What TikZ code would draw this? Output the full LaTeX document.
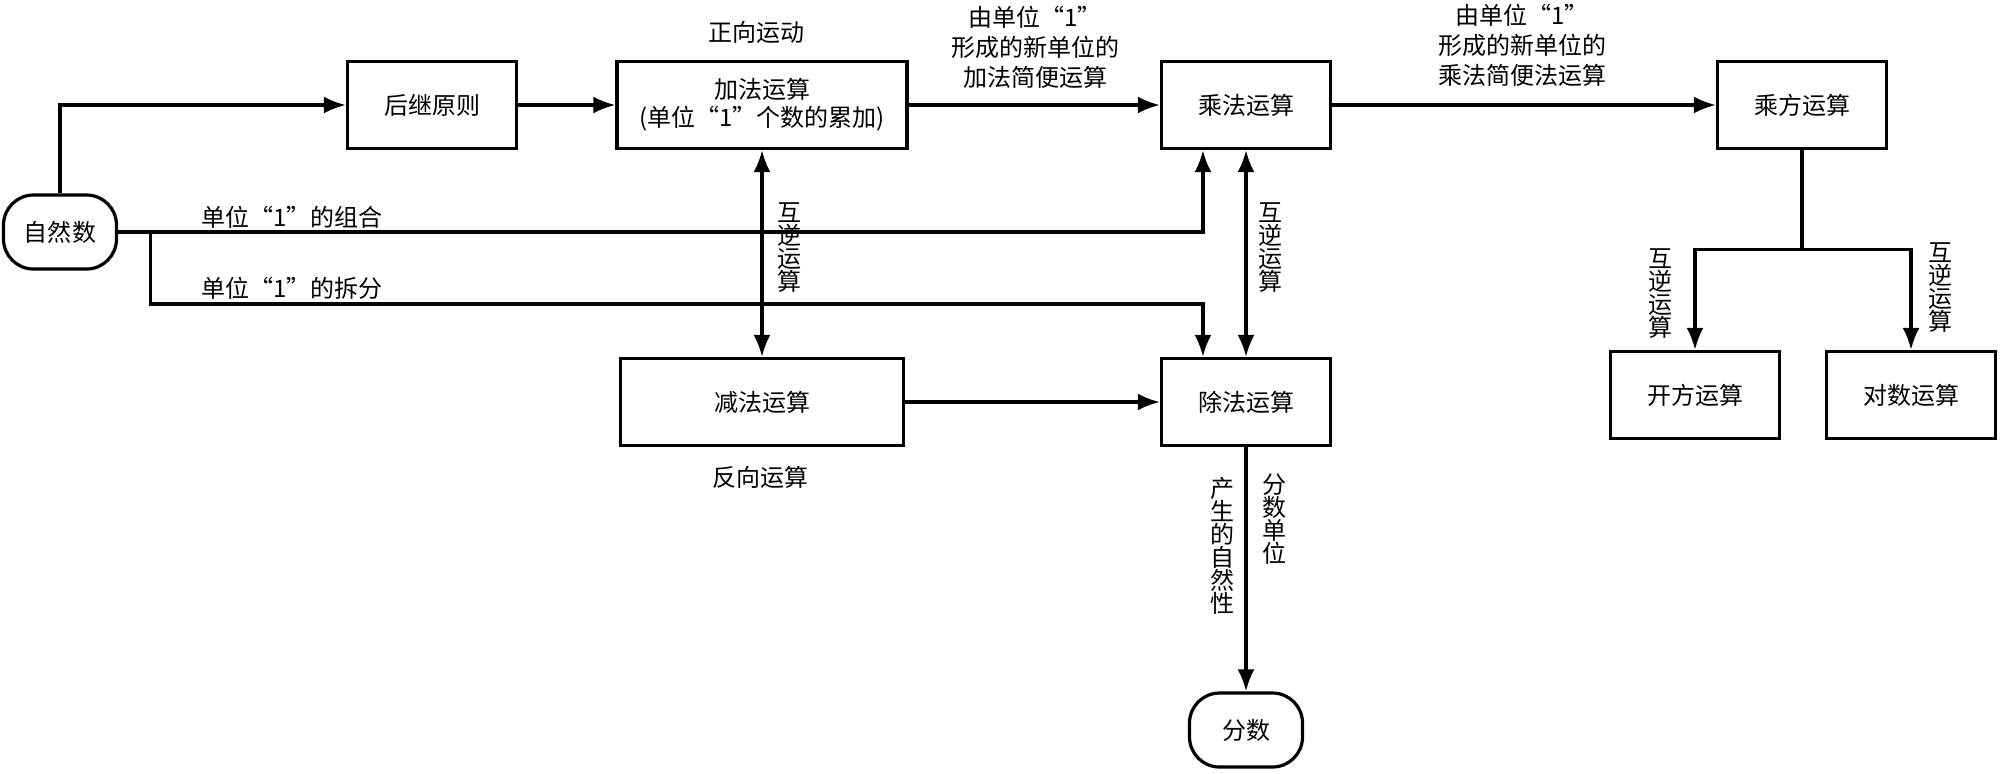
\documentclass[tikz,border=0pt]{standalone}
\usepackage{fontspec}
\newfontfamily\cjk{Noto Sans CJK SC}
\usetikzlibrary{arrows.meta}
\usetikzlibrary{calc}
\tikzset{
	box/.style={draw, line width=1.6pt, minimum width=84.5pt, minimum height=43.5pt, inner sep=0pt, align=center, font=\cjk\fontsize{12}{14}\selectfont},
	term/.style={box, rounded corners=15pt, minimum width=56.5pt, minimum height=37pt},
	arr/.style={line width=1.6pt, -{Latex[length=11pt,width=8.5pt]}},
	dblarr/.style={line width=1.6pt, {Latex[length=11pt,width=8.5pt]}-{Latex[length=11pt,width=8.5pt]}},
	lbl/.style={inner sep=0pt, align=center, font=\cjk\fontsize{12}{15}\selectfont},
	vlbl/.style={inner sep=0pt, align=center, font=\cjk\fontsize{12}{11.5}\selectfont},
}
\begin{document}
\begin{tikzpicture}[x=0.5pt,y=-0.5pt]
			\useasboundingbox (0,0) rectangle (2000,773);
			% boxes
			\node[term] (zrs) at (60,232) {自然数};
			\node[box] (hj) at (432,105) {后继原则};
			\node[box, minimum width=145pt] (jf) at (762,105) {加法运算\\(单位“1”个数的累加)};
			\node[box] (cf) at (1246,105) {乘法运算};
			\node[box] (cfang) at (1802,105) {乘方运算};
			\node[box, minimum width=141.5pt] (jianf) at (762,402) {减法运算};
			\node[box] (chuf) at (1246,402) {除法运算};
			\node[box] (kf) at (1695,395) {开方运算};
			\node[box] (ds) at (1911,395) {对数运算};
			\node[term] (fs) at (1246,730) {分数};
			% top row
			\draw[arr] (zrs.north) |- (hj.west);
			\draw[arr] (hj) -- (jf);
			\draw[arr] (jf) -- (cf);
			\draw[arr] (cf) -- (cfang);
			\node[lbl] (jfl) at (1035,47) {由单位“1”\\形成的新单位的\\加法简便运算};
			\node[lbl] (cfl) at (1522,45) {由单位“1”\\形成的新单位的\\乘法简便法运算};
			\node[lbl] (zx) at (756,32) {正向运动};
			\node[lbl] (fx) at (760,477) {反向运算};
			% unit 1 lines
			\coordinate (cfin) at ($(cf.south west)!.25!(cf.south east)$);
			\coordinate (chin) at ($(chuf.north west)!.25!(chuf.north east)$);
			\coordinate (br) at ([xshift=16pt]zrs.east);
			\draw[arr] (zrs.east) -| (cfin);
			\draw[arr] (br) -- ++(0,72) -| (chin);
			\node[lbl, anchor=west] (zh) at (201,217) {单位“1”的组合};
			\node[lbl, anchor=west] (cq) at (201,288) {单位“1”的拆分};
			% inverse pairs
			\draw[dblarr] (jf) -- (jianf);
			\draw[dblarr] (cf) -- (chuf);
			\node[vlbl] (hn1) at (789,248) {互\\逆\\运\\算};
			\node[vlbl] (hn2) at (1270,248) {互\\逆\\运\\算};
			\draw[arr] (jianf) -- (chuf);
			% fraction
			\draw[arr] (chuf) -- (fs);
			\node[vlbl, anchor=north] (zrx) at (1222,477) {产\\生\\的\\自\\然\\性};
			\node[vlbl, anchor=north] (fsdw) at (1274,473) {分\\数\\单\\位};
			% power
			\coordinate (sp) at ([yshift=-49.5pt]cfang.south);
			\draw[line width=1.6pt] (cfang) -- (sp);
			\draw[arr] (sp) -| (kf);
			\draw[arr] (sp) -| (ds);
			\node[vlbl] (hn3) at (1660,294) {互\\逆\\运\\算};
			\node[vlbl] (hn4) at (1940,288) {互\\逆\\运\\算};
		\end{tikzpicture}
\end{document}
